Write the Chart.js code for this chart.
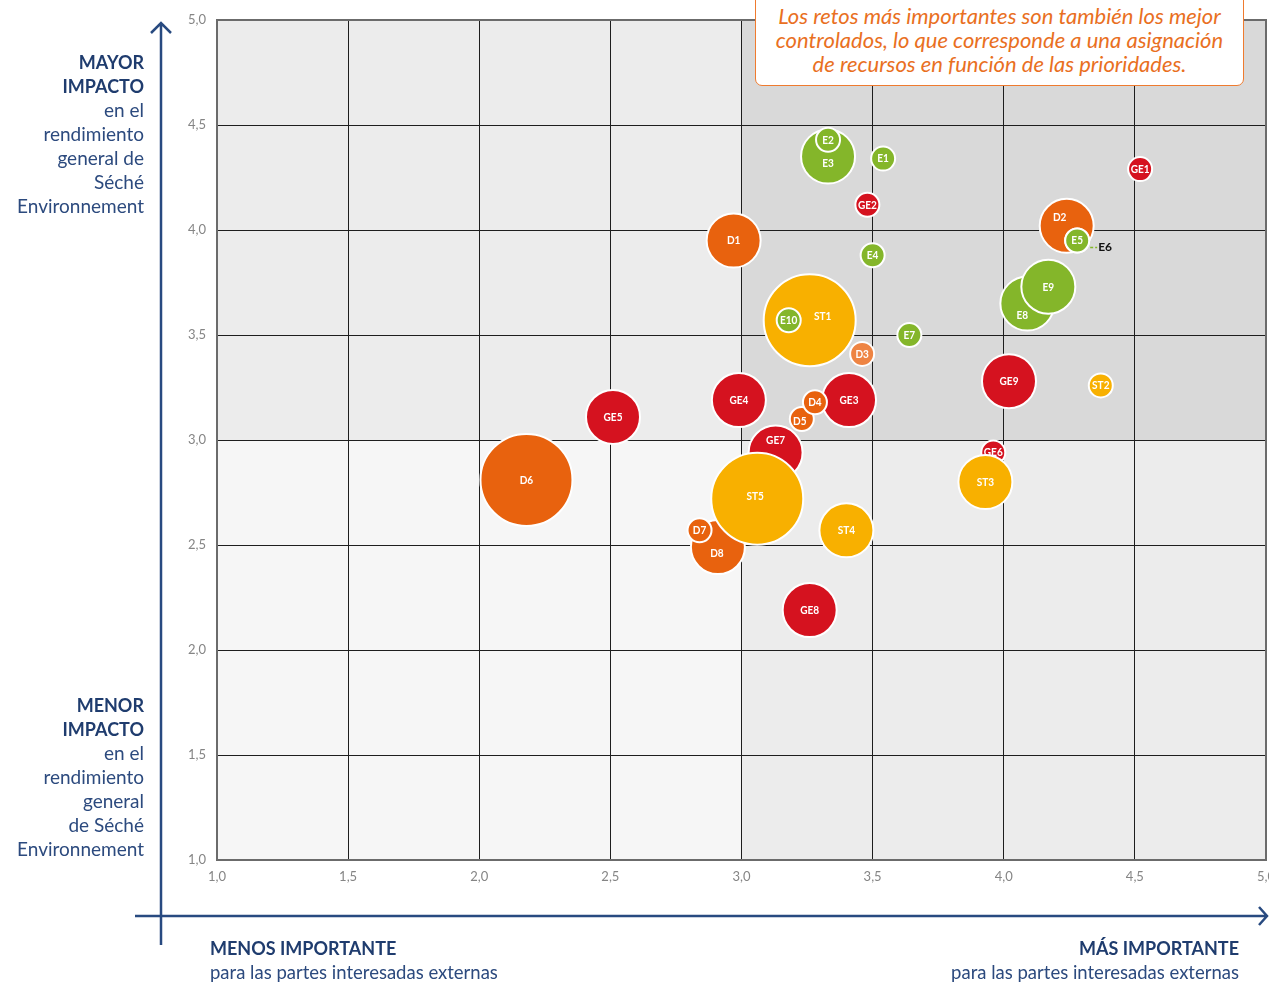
<!DOCTYPE html>
<html lang="es">
<head>
<meta charset="utf-8">
<title>Matriz de materialidad</title>
<script src="https://cdn.jsdelivr.net/npm/chart.js@4.4.1/dist/chart.umd.min.js"></script>
<style>
  html, body { margin: 0; padding: 0; background: #fff; overflow: hidden; }
  #wrap { position: relative; width: 1269px; height: 984px; overflow: hidden; }
  #chart { position: absolute; left: 0; top: 0; }
  .side { position: absolute; left: 0; width: 144px; text-align: right; color: #2c4a7e;
          font-family: Lato, "Open Sans", sans-serif; font-size: 19px; line-height: 24px; }
  .side b, .foot b { color: #1f3c6e; font-weight: bold; font-size: 18px; }
  .foot { position: absolute; color: #2c4a7e; font-family: Lato, "Open Sans", sans-serif;
          font-size: 18.5px; line-height: 24px; }
  #note { position: absolute; left: 755px; top: -10px; width: 489px; height: 96px; box-sizing: border-box;
          border: 1.5px solid #ef7b2f; border-radius: 7px; background: #fff; color: #e9701f;
          font: italic 22px Lato, "Open Sans", sans-serif; line-height: 24px; text-align: center; padding-top: 13px; }
</style>
</head>
<body>
<div id="wrap">
  <canvas id="chart" width="1290" height="984"></canvas>
  <div class="side" style="top:50px"><b>MAYOR<br>IMPACTO</b><br>en el<br>rendimiento<br>general de<br>Séché<br>Environnement</div>
  <div class="side" style="top:693px"><b>MENOR<br>IMPACTO</b><br>en el<br>rendimiento<br>general<br>de Séché<br>Environnement</div>
  <div class="foot" style="left:210px; top:936px"><b>MENOS IMPORTANTE</b><br>para las partes interesadas externas</div>
  <div class="foot" style="right:30px; top:936px; text-align:right"><b>MÁS IMPORTANTE</b><br>para las partes interesadas externas</div>
  <div id="note">Los retos más importantes son también los mejor<br>controlados, lo que corresponde a una asignación<br>de recursos en función de las prioridades.</div>
</div>
<script>
// retos, in drawing order (later ones sit on top)
const names = ['D6', 'GE5', 'D1', 'GE4', 'GE3', 'D5', 'D4', 'GE7', 'D8', 'D7', 'ST5', 'ST4', 'GE8',
               'E3', 'E2', 'E1', 'GE2', 'E4', 'GE1', 'D2', 'E6', 'E5', 'E8', 'E9', 'ST1', 'E10',
               'D3', 'E7', 'GE9', 'ST2', 'GE6', 'ST3'];
// importancia para las partes interesadas externas
const importance = [2.18, 2.51, 2.97, 2.99, 3.41, 3.23, 3.28, 3.13, 2.91, 2.84, 3.06, 3.40, 3.26,
                    3.33, 3.33, 3.54, 3.48, 3.50, 4.52, 4.24, 4.28, 4.28, 4.09, 4.17, 3.26, 3.18,
                    3.46, 3.64, 4.02, 4.37, 3.96, 3.93];
// impacto en el rendimiento general
const impact = [2.81, 3.11, 3.95, 3.19, 3.19, 3.10, 3.18, 2.94, 2.49, 2.57, 2.72, 2.57, 2.19,
                4.35, 4.43, 4.34, 4.12, 3.88, 4.29, 4.02, 3.95, 3.95, 3.65, 3.73, 3.57, 3.57,
                3.41, 3.50, 3.28, 3.26, 2.94, 2.80];
// bubble size class (1 small, 2 medium, 3 large)
const level = [3, 2, 2, 2, 2, 1, 1, 2, 2, 1, 3, 2, 2,
               2, 1, 1, 1, 1, 1, 2, 1, 1, 2, 2, 3, 1,
               1, 1, 2, 1, 1, 2];
const tickValues = [1.0, 1.5, 2.0, 2.5, 3.0, 3.5, 4.0, 4.5, 5.0];
const threshold = 3.0;

const radius = { 1: 12, 2: 27, 3: 46 };
const groupColor = { GE: '#d5121f', D: '#e8620e', E: '#84b62a', ST: '#f8b000' };
const colorOverride = { D3: '#ee8443' };
const labelShift = { E3: [0, 7], ST1: [13, -4], D2: [-7, -9], E8: [-5, 12], GE7: [0, -12],
                     D8: [-1, 6], ST5: [-2, -3], D5: [-2, 2] };

function colorOf(name) {
    return colorOverride[name] || groupColor[name.replace(/\d+/, '')];
}
function fmt(v) {
    return Number(v).toFixed(1).replace('.', ',');
}

const quadrants = {
    id: 'quadrants',
    beforeDraw(chart) {
        const { ctx, chartArea: a, scales: { x, y } } = chart;
        const mx = x.getPixelForValue(threshold);
        const my = y.getPixelForValue(threshold);
        ctx.save();
        ctx.fillStyle = '#ececec'; ctx.fillRect(a.left, a.top, mx - a.left, my - a.top);
        ctx.fillStyle = '#d9d9d9'; ctx.fillRect(mx, a.top, a.right - mx, my - a.top);
        ctx.fillStyle = '#f6f6f6'; ctx.fillRect(a.left, my, mx - a.left, a.bottom - my);
        ctx.fillStyle = '#ececec'; ctx.fillRect(mx, my, a.right - mx, a.bottom - my);
        ctx.restore();
    },
    beforeDatasetsDraw(chart) {
        const { ctx, chartArea: a } = chart;
        ctx.save();
        ctx.strokeStyle = '#6b6b6b';
        ctx.lineWidth = 2;
        ctx.strokeRect(a.left, a.top, a.right - a.left, a.bottom - a.top);
        ctx.restore();
    }
};

const bubbleLabels = {
    id: 'bubbleLabels',
    afterDatasetsDraw(chart) {
        const ctx = chart.ctx;
        const meta = chart.getDatasetMeta(0);
        ctx.save();
        ctx.font = 'bold 12px Lato, "Noto Sans", sans-serif';
        ctx.textBaseline = 'middle';
        meta.data.forEach((el, i) => {
            const name = names[i];
            if (name === 'E6') {
                // hidden behind E5, labelled outside
                ctx.strokeStyle = '#84b62a';
                ctx.lineWidth = 1.5;
                ctx.setLineDash([3, 2]);
                ctx.beginPath();
                ctx.moveTo(el.x + 13, el.y + 7);
                ctx.lineTo(el.x + 20, el.y + 7);
                ctx.stroke();
                ctx.setLineDash([]);
                ctx.fillStyle = '#111';
                ctx.textAlign = 'left';
                ctx.fillText(name, el.x + 21, el.y + 7);
                return;
            }
            const s = labelShift[name] || [0, 0];
            ctx.fillStyle = '#fff';
            ctx.textAlign = 'center';
            // slightly condensed, like the original lettering
            ctx.save();
            ctx.translate(el.x + s[0], el.y + s[1]);
            ctx.scale(0.84, 1);
            ctx.fillText(name, 0, 0);
            ctx.restore();
        });
        ctx.restore();
    }
};

const arrows = {
    id: 'arrows',
    afterDraw(chart) {
        const ctx = chart.ctx;
        ctx.save();
        ctx.strokeStyle = '#284a80';
        ctx.lineWidth = 2.5;
        ctx.beginPath();
        ctx.moveTo(161, 945); ctx.lineTo(161, 23);
        ctx.moveTo(151, 33); ctx.lineTo(161, 23); ctx.lineTo(171, 33);
        ctx.moveTo(135, 916); ctx.lineTo(1267, 916);
        ctx.moveTo(1259, 907); ctx.lineTo(1267, 916); ctx.lineTo(1259, 925);
        ctx.stroke();
        ctx.restore();
    }
};

const tickFont = { family: 'Lato, "Noto Sans", sans-serif', size: 13 };

new Chart(document.getElementById('chart').getContext('2d'), {
    type: 'bubble',
    data: {
        datasets: [{
            label: 'Retos',
            data: names.map((n, i) => ({ x: importance[i], y: impact[i], r: radius[level[i]] })),
            backgroundColor: names.map(colorOf),
            borderColor: '#ffffff',
            borderWidth: 2,
            clip: false
        }]
    },
    options: {
        responsive: false,
        animation: false,
        events: [],
        devicePixelRatio: 1,
        layout: { autoPadding: false, padding: { left: 0, top: 20, right: 24, bottom: 0 } },
        plugins: { legend: { display: false }, tooltip: { enabled: false } },
        scales: {
            x: {
                type: 'linear', min: 1, max: 5,
                afterBuildTicks: s => { s.ticks = tickValues.map(v => ({ value: v })); },
                afterFit: s => { s.height = 124; },
                ticks: { callback: fmt, color: '#858585', font: tickFont, padding: 9, maxRotation: 0 },
                grid: { color: '#1e1e1e', lineWidth: 1, drawTicks: false },
                border: { display: false }
            },
            y: {
                type: 'linear', min: 1, max: 5,
                afterBuildTicks: s => { s.ticks = tickValues.map(v => ({ value: v })); },
                afterFit: s => { s.width = 217; },
                ticks: { callback: fmt, color: '#858585', font: tickFont, padding: 11 },
                grid: { color: '#1e1e1e', lineWidth: 1, drawTicks: false },
                border: { display: false }
            }
        }
    },
    plugins: [quadrants, bubbleLabels, arrows]
});
</script>
</body>
</html>
